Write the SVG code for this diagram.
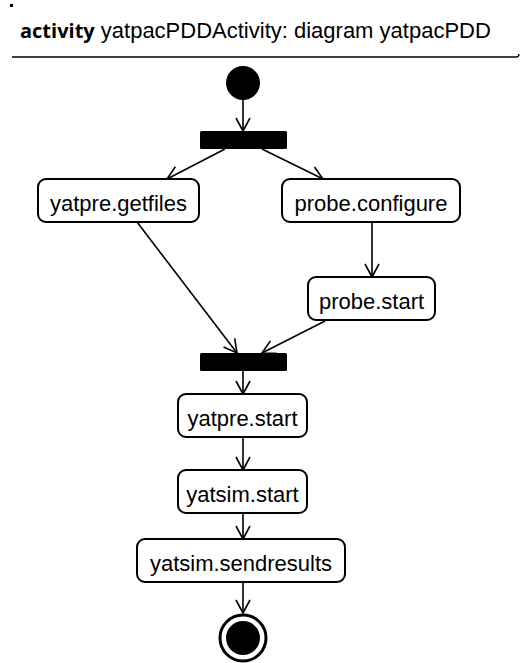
<svg xmlns="http://www.w3.org/2000/svg" width="528" height="663" viewBox="0 0 528 663">
<style>
.box{fill:#fff;stroke:#000;stroke-width:2}
.lbl{font-family:"Liberation Sans",Arial,sans-serif;font-size:22px;fill:#000;text-anchor:middle}
.edge{stroke:#000;stroke-width:1.6;fill:none;marker-end:url(#arr)}
.title{font-family:"Liberation Sans",Arial,sans-serif;font-size:22px;fill:#000}
</style>
<defs>
<marker id="arr" markerUnits="userSpaceOnUse" markerWidth="16" markerHeight="16" viewBox="0 0 16 16" refX="14" refY="8" orient="auto">
<path d="M1,1 L14,8 L1,15" fill="none" stroke="#000" stroke-width="1.6"/>
</marker>
</defs>
<rect x="10" y="4" width="3" height="3" fill="#000"/>
<text class="title" x="20" y="38"><tspan font-family="'Open Sans','Noto Sans',sans-serif" font-weight="bold" font-size="20">activity</tspan> yatpacPDDActivity: diagram yatpacPDD</text>
<path d="M12,57 H516 Q519,57 519,54" fill="none" stroke="#000" stroke-width="1.3"/>
<g id="edges">
<line class="edge" x1="243" y1="100" x2="243" y2="131"/>
<line class="edge" x1="225" y1="149" x2="167" y2="179"/>
<line class="edge" x1="262" y1="149" x2="323" y2="179"/>
<line class="edge" x1="372" y1="222" x2="372" y2="277"/>
<line class="edge" x1="137" y1="222" x2="237" y2="353"/>
<line class="edge" x1="325" y1="321" x2="262" y2="353"/>
<line class="edge" x1="243" y1="371" x2="243" y2="394"/>
<line class="edge" x1="243" y1="437" x2="243" y2="470"/>
<line class="edge" x1="243" y1="513" x2="243" y2="539"/>
<line class="edge" x1="243" y1="582" x2="243" y2="613"/>
</g>
<g id="initial"><circle cx="243" cy="83" r="17" fill="#000"/></g>
<g id="fork"><rect x="200" y="131" width="87" height="18" rx="1.5" fill="#000"/></g>
<g id="getfiles"><rect class="box" x="38" y="179" width="161" height="43" rx="8"/><text class="lbl" x="118.5" y="211">yatpre.getfiles</text></g>
<g id="configure"><rect class="box" x="282" y="179" width="178" height="43" rx="8"/><text class="lbl" x="371" y="211">probe.configure</text></g>
<g id="probestart"><rect class="box" x="308" y="277" width="127" height="43" rx="8"/><text class="lbl" x="371.5" y="309">probe.start</text></g>
<g id="join"><rect x="200" y="353" width="87" height="18" rx="1.5" fill="#000"/></g>
<g id="yatprestart"><rect class="box" x="178" y="394" width="129" height="43" rx="8"/><text class="lbl" x="242.5" y="426">yatpre.start</text></g>
<g id="yatsimstart"><rect class="box" x="178" y="470" width="129" height="43" rx="8"/><text class="lbl" x="242.5" y="502">yatsim.start</text></g>
<g id="sendresults"><rect class="box" x="137" y="539" width="208" height="43" rx="8"/><text class="lbl" x="241" y="571">yatsim.sendresults</text></g>
<g id="final"><circle cx="243" cy="638" r="23" fill="#fff" stroke="#000" stroke-width="3"/><circle cx="243" cy="638" r="17" fill="#000"/></g>
</svg>
